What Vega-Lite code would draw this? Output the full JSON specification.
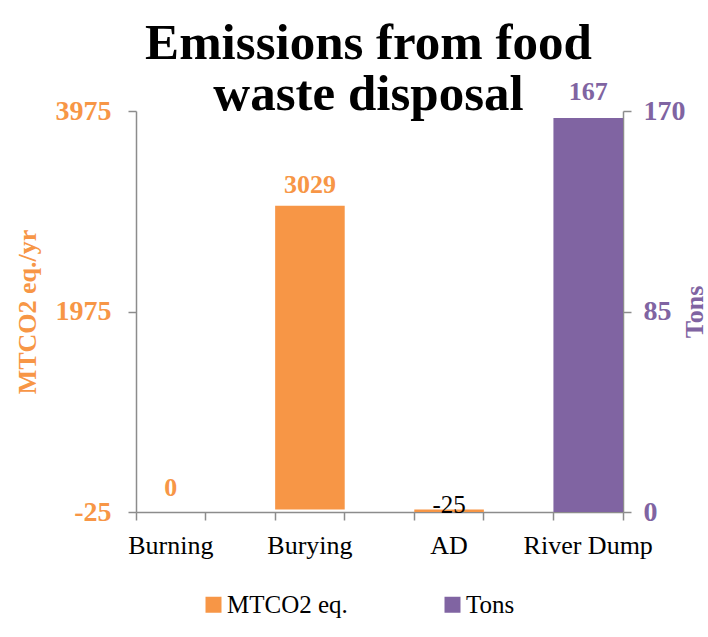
{
  "$schema": "https://vega.github.io/schema/vega-lite/v6.json",
  "autosize": "none",
  "width": 487,
  "height": 401,
  "padding": {"left": 136, "top": 111, "right": 85, "bottom": 125},
  "background": "white",
  "title": {
    "text": ["Emissions from food", "waste disposal"],
    "font": "Liberation Serif",
    "fontSize": 51,
    "fontWeight": "bold",
    "color": "#000000",
    "lineHeight": 51,
    "anchor": "middle",
    "frame": "group",
    "baseline": "alphabetic",
    "offset": 0,
    "dx": -11,
    "dy": 82
  },
  "config": {
    "view": {"stroke": null},
    "axis": {"grid": false, "domainColor": "#8c8c8c", "tickColor": "#8c8c8c", "domainWidth": 1.5, "tickWidth": 1.5, "tickSize": 8}
  },
  "data": {
    "values": [
      {"category": "Burning", "MTCO2": 0, "Tons": null},
      {"category": "Burying", "MTCO2": 3029, "Tons": null},
      {"category": "AD", "MTCO2": -25, "Tons": null},
      {"category": "River Dump", "MTCO2": null, "Tons": 167}
    ]
  },
  "layer": [
    {
      "layer": [
        {
          "mark": {"type": "bar", "color": "#F79646"},
          "transform": [{"filter": "datum.MTCO2 != null"}],
          "encoding": {
            "x": {
              "field": "category", "type": "nominal",
              "sort": ["Burning", "Burying", "AD", "River Dump"],
              "scale": {"paddingInner": 0.5, "paddingOuter": 0},
              "axis": {"orient": "bottom", "title": null, "bandPosition": 0, "labelFont": "Liberation Serif", "labelFontSize": 26, "labelColor": "#000000", "labelAngle": 0, "labelPadding": 12}
            },
            "y": {
              "field": "MTCO2", "type": "quantitative",
              "scale": {"domain": [-25, 3975], "zero": false, "nice": false},
              "axis": {
                "title": "MTCO2 eq./yr", "values": [-25, 1975, 3975], "labelExpr": "'' + datum.value",
                "labelFont": "Liberation Serif", "labelFontSize": 28, "labelFontWeight": "bold", "labelColor": "#F79646",
                "labelPadding": 17, "titleFont": "Liberation Serif", "titleFontSize": 26, "titleFontWeight": "bold", "titleColor": "#F79646", "titlePadding": 15
              }
            },
            "y2": {"datum": 0},
            "color": {"datum": "MTCO2 eq.", "type": "nominal", "scale": {"domain": ["MTCO2 eq.", "Tons"], "range": ["#F79646", "#8064A2"]},
              "legend": {"orient": "none", "legendX": 65, "legendY": 481, "direction": "horizontal", "title": null, "symbolType": "square", "symbolSize": 256, "symbolStrokeWidth": 0, "symbolOpacity": 1, "labelFont": "Liberation Serif", "labelFontSize": 25, "labelColor": "#000000", "columnPadding": 92, "labelOffset": 1, "labelLimit": 300}}
          }
        },
        {
          "mark": {"type": "text", "font": "Liberation Serif", "fontSize": 26, "fontWeight": "bold", "color": "#F79646", "baseline": "alphabetic", "dy": -13},
          "transform": [{"filter": "datum.MTCO2 != null && datum.MTCO2 >= 0"}],
          "encoding": {
            "x": {"field": "category", "type": "nominal", "sort": ["Burning", "Burying", "AD", "River Dump"], "scale": {"paddingInner": 0.5, "paddingOuter": 0}, "bandPosition": 0.5},
            "y": {"field": "MTCO2", "type": "quantitative"},
            "text": {"field": "MTCO2", "type": "nominal"}
          }
        },
        {
          "mark": {"type": "text", "font": "Liberation Serif", "fontSize": 25, "color": "#000000", "baseline": "alphabetic", "dy": 1},
          "transform": [{"filter": "datum.MTCO2 != null && datum.MTCO2 < 0"}],
          "encoding": {
            "x": {"field": "category", "type": "nominal", "sort": ["Burning", "Burying", "AD", "River Dump"], "scale": {"paddingInner": 0.5, "paddingOuter": 0}, "bandPosition": 0.5},
            "y": {"field": "MTCO2", "type": "quantitative"},
            "text": {"field": "MTCO2", "type": "nominal"}
          }
        }
      ]
    },
    {
      "layer": [
        {
          "mark": {"type": "bar", "color": "#8064A2"},
          "transform": [{"filter": "datum.Tons != null"}],
          "encoding": {
            "x": {
              "field": "category", "type": "nominal",
              "sort": ["Burning", "Burying", "AD", "River Dump"],
              "scale": {"paddingInner": 0.5, "paddingOuter": 0},
              "axis": {"orient": "bottom", "title": null, "bandPosition": 1, "labels": false, "domain": false}
            },
            "y": {
              "field": "Tons", "type": "quantitative",
              "scale": {"domain": [0, 170], "nice": false},
              "axis": {
                "orient": "right", "title": "Tons", "values": [0, 85, 170],
                "labelFont": "Liberation Serif", "labelFontSize": 28, "labelFontWeight": "bold", "labelColor": "#8064A2",
                "labelPadding": 12, "titleFont": "Liberation Serif", "titleFontSize": 26, "titleFontWeight": "bold", "titleColor": "#8064A2", "titlePadding": 22, "titleAngle": 270
              }
            },
            "color": {"datum": "Tons", "type": "nominal"}
          }
        },
        {
          "mark": {"type": "text", "font": "Liberation Serif", "fontSize": 26, "fontWeight": "bold", "color": "#8064A2", "baseline": "alphabetic", "dy": -18},
          "transform": [{"filter": "datum.Tons != null"}],
          "encoding": {
            "x": {"field": "category", "type": "nominal", "sort": ["Burning", "Burying", "AD", "River Dump"], "scale": {"paddingInner": 0.5, "paddingOuter": 0}, "bandPosition": 0.5},
            "y": {"field": "Tons", "type": "quantitative"},
            "text": {"field": "Tons", "type": "nominal"}
          }
        }
      ]
    }
  ],
  "resolve": {"scale": {"y": "independent"}, "axis": {"x": "independent"}}
}
